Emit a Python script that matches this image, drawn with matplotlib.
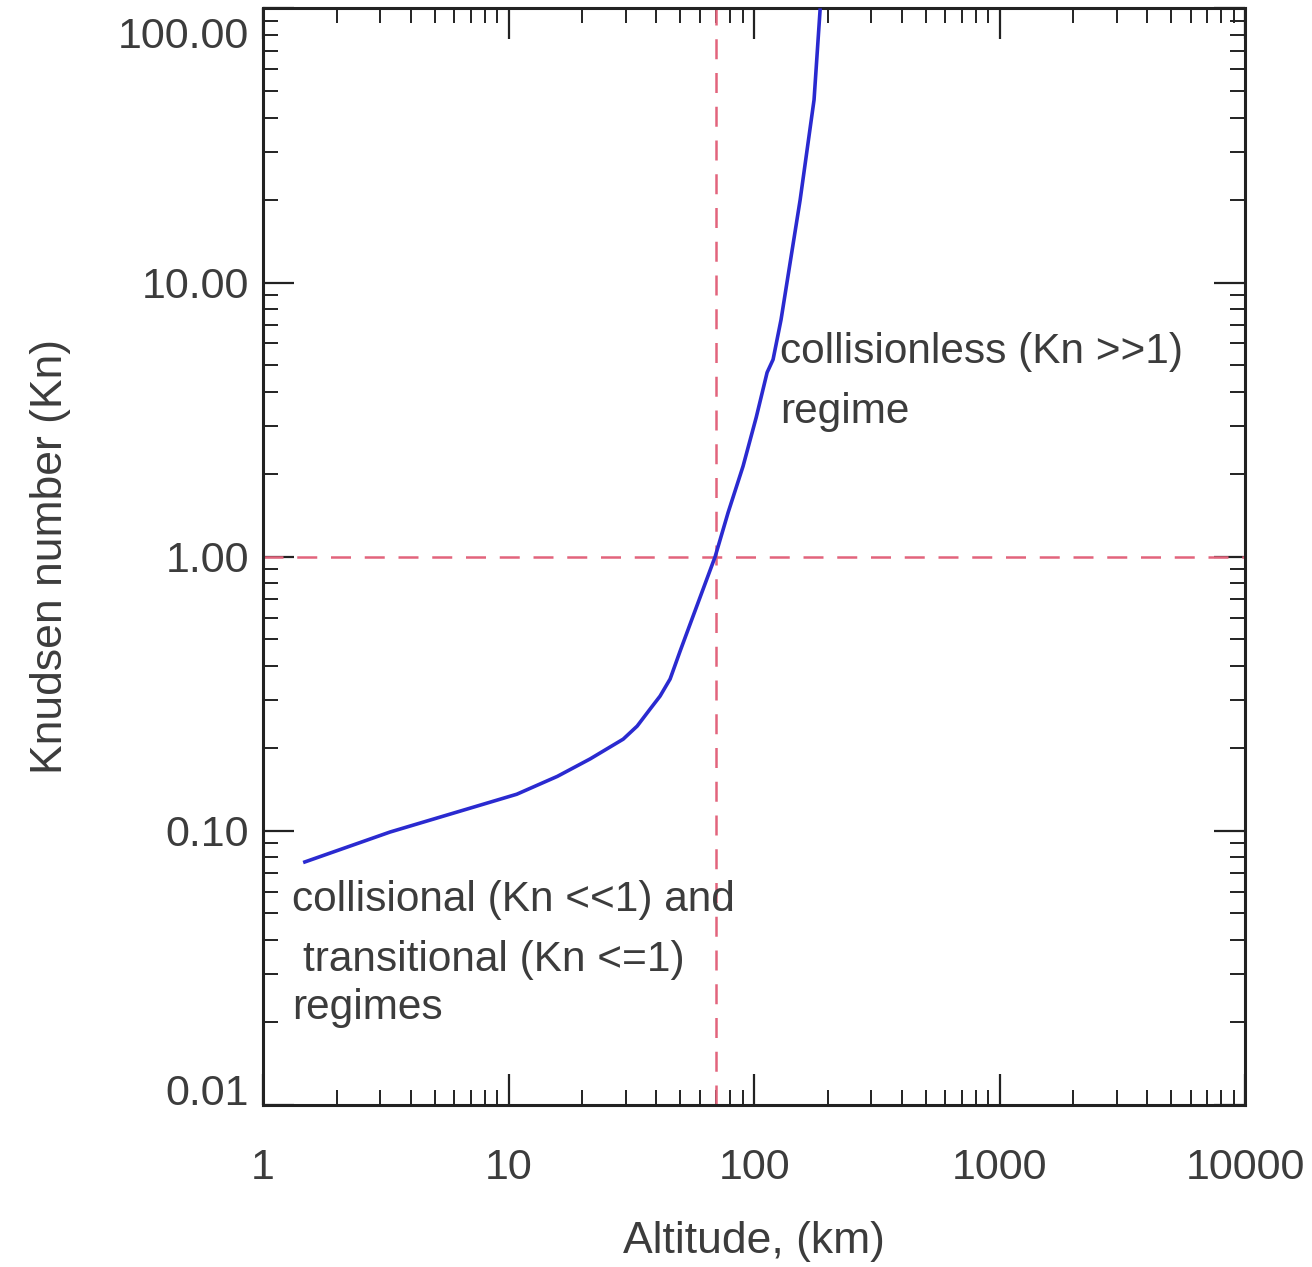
import matplotlib.pyplot as plt
from matplotlib.ticker import FixedLocator, LogLocator, FuncFormatter
from matplotlib.transforms import ScaledTranslation

plt.rcParams["font.family"] = ["Liberation Sans", "DejaVu Sans"]

# curve
altitude = [1.48, 3.29, 10.8, 15.8, 21.5, 29.3, 33.4, 37.7, 41.4, 45.5, 50.0,
            54.9, 69.4, 78.4, 90.2, 102, 113, 119.5, 128.8, 154, 175.5, 185.7]
knudsen = [0.077, 0.099, 0.136, 0.158, 0.183, 0.216, 0.241, 0.278, 0.310, 0.358,
           0.453, 0.568, 1.0, 1.45, 2.14, 3.22, 4.70, 5.24, 7.33, 20.0, 46.4, 98.6]

kn_ref = 1.0
alt_ref = 70.0

x_ticks = [1, 10, 100, 1000, 10000]
y_ticks = [0.01, 0.1, 1, 10, 100]

txt_col = "#3c3c3c"

fig = plt.figure(figsize=(13.12, 12.67), dpi=100)
ax = fig.add_axes([0.2005, 0.1279, 0.7485, 0.8654])

ax.plot(altitude, knudsen, color="#2a2ad0", lw=2.6, zorder=3)
ax.axhline(kn_ref, color="#e2647c", lw=1.8, dashes=(8, 5.5), zorder=2)
ax.axvline(alt_ref, color="#e2647c", lw=1.8, dashes=(8, 5.5), zorder=2)

ax.set_xscale("log")
ax.set_yscale("log")
ax.set_xlim(1, 10000)
ax.set_ylim(0.01, 100)

ax.xaxis.set_major_locator(FixedLocator(x_ticks))
ax.yaxis.set_major_locator(FixedLocator(y_ticks))
ax.xaxis.set_minor_locator(LogLocator(base=10, subs=range(2, 10), numticks=20))
ax.yaxis.set_minor_locator(LogLocator(base=10, subs=range(2, 10), numticks=20))
ax.xaxis.set_major_formatter(FuncFormatter(lambda v, p: "%d" % round(v)))
ax.yaxis.set_major_formatter(FuncFormatter(lambda v, p: "%.2f" % v))

ax.tick_params(which="both", direction="in", top=True, right=True,
               colors="#222222", labelcolor=txt_col, labelsize=31)
ax.tick_params(which="major", length=22, width=1.6)
ax.tick_params(which="minor", length=11, width=1.4)
ax.tick_params(axis="x", which="major", pad=31)
ax.tick_params(axis="y", which="major", pad=10)
for s in ax.spines.values():
    s.set_linewidth(2.2)
    s.set_color("#222222")

ax.set_xlabel("Altitude, (km)", fontsize=32, color=txt_col, labelpad=24)
ax.set_ylabel("Knudsen number (Kn)", fontsize=32, color=txt_col, labelpad=34)

fs = 30.5
ax.text(0.5265, 0.6865, "collisionless (Kn >>1)", transform=ax.transAxes,
        fontsize=fs, color=txt_col, va="center", ha="left")
ax.text(0.5265, 0.632, "regime", transform=ax.transAxes,
        fontsize=fs, color=txt_col, va="center", ha="left")
ax.text(0.0295, 0.187, "collisional (Kn <<1) and", transform=ax.transAxes,
        fontsize=fs, color=txt_col, va="center", ha="left")
ax.text(0.0407, 0.132, "transitional (Kn <=1)", transform=ax.transAxes,
        fontsize=fs, color=txt_col, va="center", ha="left")
ax.text(0.0295, 0.0884, "regimes", transform=ax.transAxes,
        fontsize=fs, color=txt_col, va="center", ha="left")

fig.canvas.draw()
ylabels = ax.get_yticklabels()
ylabels[0].set_va("baseline")
ylabels[-1].set_va("top")
ylabels[-1].set_transform(ylabels[-1].get_transform()
                          + ScaledTranslation(0, -6 / 72, fig.dpi_scale_trans))

plt.savefig("out.png", dpi=100)
